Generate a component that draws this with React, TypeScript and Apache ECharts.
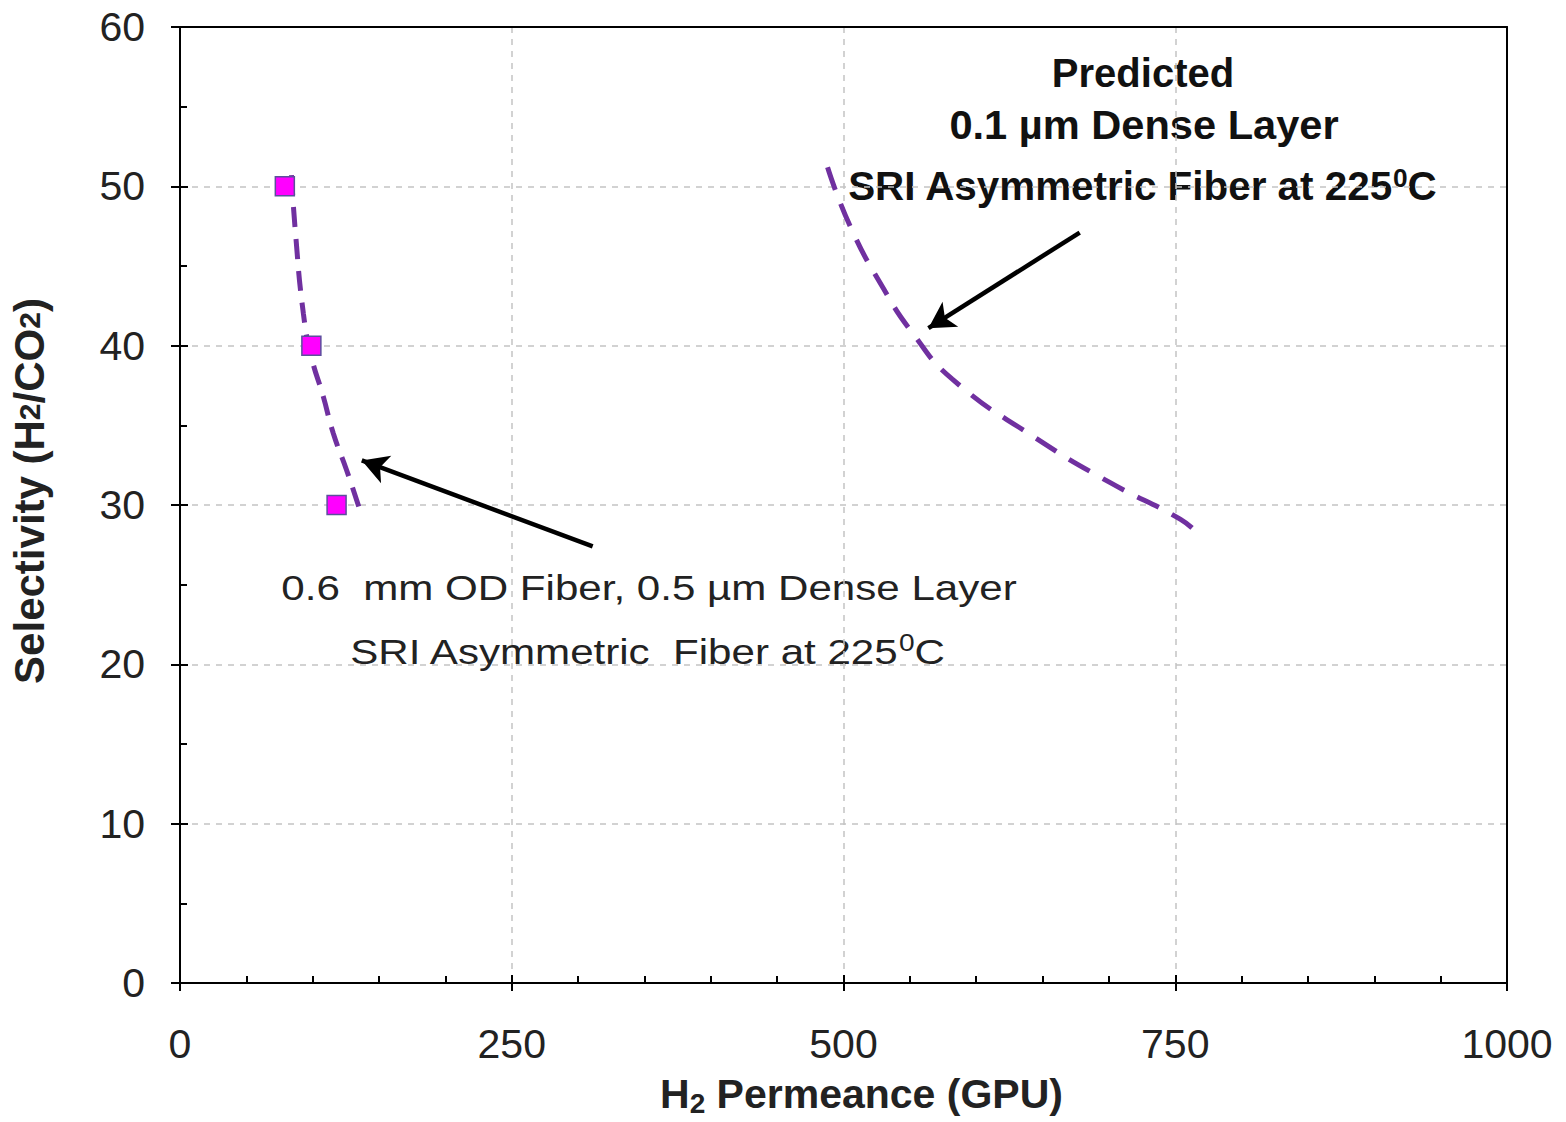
import React, { useEffect, useRef } from "react";
import * as echarts from "echarts";

const measuredX = [79, 99, 118];
const measuredY = [50, 40, 30];

const fitSmallX = [84, 87, 93, 99, 108, 115.5, 125.5, 135.5];
const fitSmallY = [50.7, 47.1, 42.0, 39.3, 36.8, 34.5, 32.2, 29.7];

const predictedX = [488, 505, 530, 552, 582, 643, 701, 754, 767];
const predictedY = [51.2, 47.5, 43.6, 40.8, 37.9, 34.3, 31.4, 29.1, 28.2];

const xTicks = [0, 250, 500, 750, 1000];
const yTicks = [0, 10, 20, 30, 40, 50, 60];

const arrowSmall = [[311, 27.4], [137, 32.8]];
const arrowPredicted = [[678, 47.1], [564, 41.1]];

const pairs = (xs: number[], ys: number[]) => xs.map((x, i) => [x, ys[i]]);

export default function App() {
  const ref = useRef<HTMLDivElement>(null);
  useEffect(() => {
    const chart = echarts.init(ref.current!, null, { renderer: "svg" });
    const font = "Liberation Sans, Arial, sans-serif";
    const lineCol = { color: "#000", width: 2 };
    const xMin = xTicks[0], xMax = xTicks[xTicks.length - 1];
    const yMin = yTicks[0], yMax = yTicks[yTicks.length - 1];
    const xBase = { type: "value", min: xMin, max: xMax, interval: xTicks[1] - xTicks[0] };
    const yBase = { type: "value", min: yMin, max: yMax, interval: yTicks[1] - yTicks[0] };
    const option: any = {
      animation: false,
      backgroundColor: "#fff",
      textStyle: { fontFamily: font },
      grid: {
        left: 180, right: 59, top: 27, bottom: 139,
        outerBoundsMode: "none", containLabel: false,
      },
      xAxis: [
        {
          ...xBase,
          name: "{b|H}{s|2}{b| Permeance (GPU)}",
          nameLocation: "middle", nameGap: 88,
          nameTextStyle: {
            padding: [0, 0, 0, 36],
            rich: {
              b: { fontFamily: font, fontWeight: "bold", fontSize: 41, color: "#222" },
              s: { fontFamily: font, fontWeight: "bold", fontSize: 28, color: "#222", padding: [18, 0, 0, 0] },
            },
          },
          axisLine: { show: true, onZero: false, lineStyle: lineCol },
          axisTick: { show: true, inside: false, length: 8, lineStyle: lineCol },
          axisLabel: { fontFamily: font, fontSize: 41, color: "#222", margin: 40, formatter: (v: number) => String(v) },
          splitLine: { show: true, lineStyle: { color: "#c4c4c4", width: 1.5, type: [6, 6] } },
        },
        {
          ...xBase, position: "bottom",
          axisLine: { show: true, onZero: false, lineStyle: lineCol },
          axisTick: { show: true, inside: true, length: 8, lineStyle: lineCol },
          minorTick: { show: true, splitNumber: 5, length: 7, lineStyle: lineCol },
          axisLabel: { show: false },
          splitLine: { show: false },
        },
        {
          ...xBase, position: "top",
          axisLine: { show: true, onZero: false, lineStyle: lineCol },
          axisTick: { show: false },
          axisLabel: { show: false },
          splitLine: { show: false },
        },
      ],
      yAxis: [
        {
          ...yBase,
          name: "{b|Selectivity (H}{s|2}{b|/CO}{s|2}{b|)}",
          nameLocation: "middle", nameGap: 130, nameRotate: 90,
          nameTextStyle: {
            padding: [0, 0, 0, 28],
            rich: {
              b: { fontFamily: font, fontWeight: "bold", fontSize: 42, color: "#222" },
              s: { fontFamily: font, fontWeight: "bold", fontSize: 30, color: "#222" },
            },
          },
          axisLine: { show: true, onZero: false, lineStyle: lineCol },
          axisTick: { show: true, inside: false, length: 9, lineStyle: lineCol },
          axisLabel: { fontFamily: font, fontSize: 41, color: "#222", margin: 35 },
          splitLine: { show: true, lineStyle: { color: "#c4c4c4", width: 1.5, type: [6, 6] } },
        },
        {
          ...yBase, position: "left",
          axisLine: { show: true, onZero: false, lineStyle: lineCol },
          axisTick: { show: true, inside: true, length: 8, lineStyle: lineCol },
          minorTick: { show: true, splitNumber: 2, length: 7, lineStyle: lineCol },
          axisLabel: { show: false },
          splitLine: { show: false },
        },
        {
          ...yBase, position: "right",
          axisLine: { show: true, onZero: false, lineStyle: lineCol },
          axisTick: { show: false },
          axisLabel: { show: false },
          splitLine: { show: false },
        },
      ],
      series: [
        {
          type: "line", xAxisIndex: 0, yAxisIndex: 0, smooth: true, showSymbol: false,
          data: pairs(fitSmallX, fitSmallY),
          lineStyle: { color: "#7030A0", width: 5, type: [20, 12] },
          z: 3,
        },
        {
          type: "line", xAxisIndex: 0, yAxisIndex: 0, smooth: true, showSymbol: false,
          data: pairs(predictedX, predictedY),
          lineStyle: { color: "#7030A0", width: 5, type: [24, 15] },
          z: 3,
        },
        {
          type: "scatter", xAxisIndex: 0, yAxisIndex: 0,
          data: pairs(measuredX, measuredY),
          symbol: "rect", symbolSize: 19,
          itemStyle: { color: "#FF00FF", borderColor: "#5b4f9c", borderWidth: 1.5, opacity: 1 },
          z: 4,
        },
        {
          type: "line", xAxisIndex: 0, yAxisIndex: 0, data: [], silent: true,
          markLine: {
            silent: true, symbol: ["none", "arrow"], symbolSize: [22, 26],
            label: { show: false },
            lineStyle: { color: "#000", width: 4.5, type: "solid" },
            data: [
              [{ coord: arrowSmall[0] }, { coord: arrowSmall[1] }],
              [{ coord: arrowPredicted[0] }, { coord: arrowPredicted[1] }],
            ],
          },
        },
      ],
      graphic: [
        {
          type: "text", x: 649, y: 588, scaleX: 1.17,
          style: {
            text: "0.6  mm OD Fiber, 0.5 µm Dense Layer",
            font: `36px ${font}`, fill: "#222", align: "center", verticalAlign: "middle",
          },
        },
        {
          type: "text", x: 647, y: 652, scaleX: 1.17,
          style: {
            text: "{n|SRI Asymmetric  Fiber at 225}{u|0}{n|C}",
            align: "center", verticalAlign: "middle",
            rich: {
              n: { fontFamily: font, fontSize: 36, fill: "#222" },
              u: { fontFamily: font, fontSize: 24, fill: "#222", padding: [0, 0, 18, 0] },
            },
          },
        },
        {
          type: "text", x: 1143, y: 73,
          style: {
            text: "Predicted", font: `bold 40px ${font}`, fill: "#111",
            align: "center", verticalAlign: "middle",
          },
        },
        {
          type: "text", x: 1144, y: 125, scaleX: 1.04,
          style: {
            text: "0.1 µm Dense Layer", font: `bold 40px ${font}`, fill: "#111",
            align: "center", verticalAlign: "middle",
          },
        },
        {
          type: "text", x: 1142, y: 187, scaleX: 1.01,
          style: {
            text: "{n|SRI Asymmetric Fiber at 225}{u|0}{n|C}",
            align: "center", verticalAlign: "middle",
            rich: {
              n: { fontFamily: font, fontWeight: "bold", fontSize: 40, fill: "#111" },
              u: { fontFamily: font, fontWeight: "bold", fontSize: 26, fill: "#111", padding: [0, 0, 18, 0] },
            },
          },
        },
      ],
    };
    chart.setOption(option);
    return () => chart.dispose();
  }, []);
  return (
    <div
      ref={ref}
      style={{ position: "absolute", left: 0, top: 0, width: 1566, height: 1122 }}
    />
  );
}
